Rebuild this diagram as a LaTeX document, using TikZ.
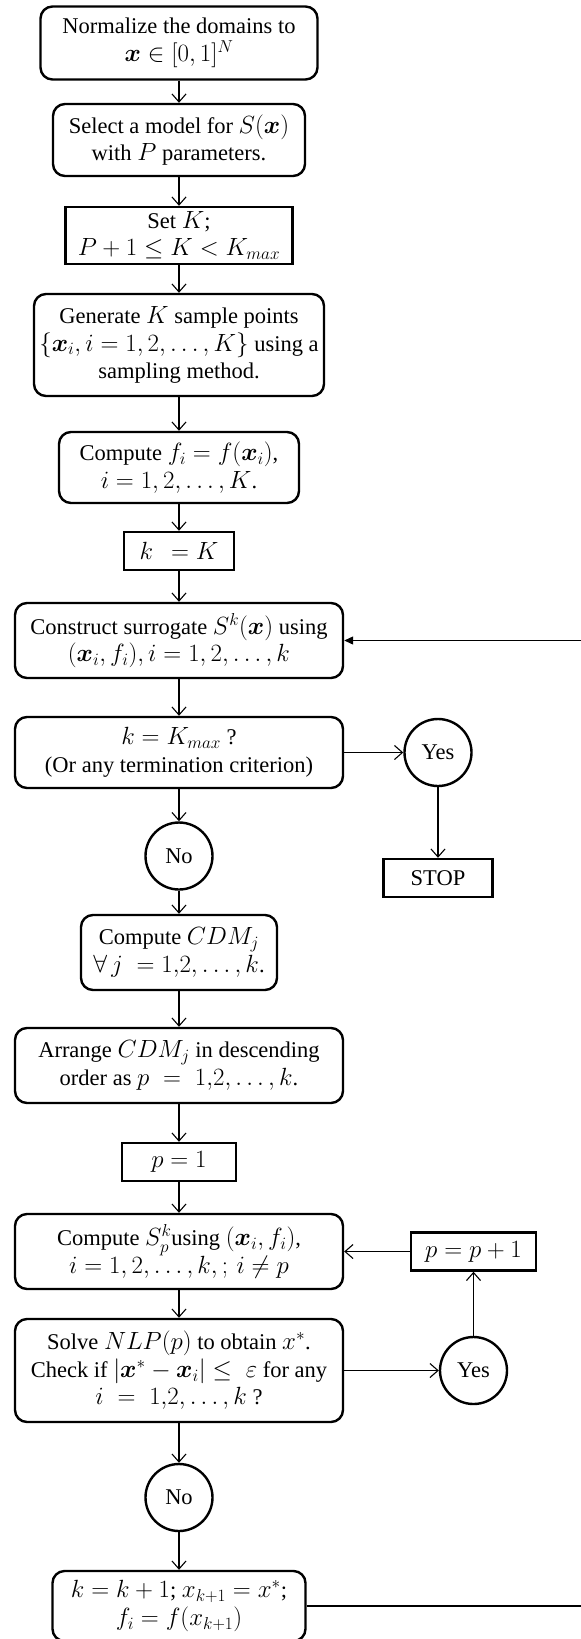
\documentclass[tikz,border=0pt]{standalone}
\usepackage{amsmath,amssymb}
\usepackage{fontspec}
\setmainfont{Liberation Serif}
\usetikzlibrary{arrows.meta,shapes.geometric}
\DeclareMathSizes{22.5}{24}{17}{13}
\newcommand\fsz{\fontsize{22.5}{27.5}\selectfont}
\tikzset{
  box/.style={draw, line width=2.4pt, rounded corners=12pt, align=center, inner sep=0pt, font=\fsz},
  rbox/.style={draw, line width=2.4pt, align=center, inner sep=0pt, font=\fsz},
  circ/.style={draw, line width=2.4pt, circle, minimum size=67pt, inner sep=0pt, font=\fsz},
  arr/.style={-{Straight Barb[length=8pt,width=14pt]}, line width=1.1pt},
  fb/.style={-{Triangle[length=9pt,width=8pt]}, line width=1.1pt}
}
\begin{document}
\begin{tikzpicture}[x=1pt,y=-1pt]
\useasboundingbox (0,0) rectangle (581,1639);
\node[box, minimum width=277pt, minimum height=73pt] (n1) at (179,43) {Normalize the domains to\\ $\boldsymbol{x}\in[0,1]^N$};
\node[box, minimum width=252pt, minimum height=72pt] (n2) at (179,140) {Select a model for $S(\boldsymbol{x})$\\ with $P$ parameters.};
\node[rbox, minimum width=227pt, minimum height=57pt] (n3) at (179,235.5) {Set $K$;\\ $P+1\le K<K_{max}$};
\node[box, minimum width=290pt, minimum height=102pt] (n4) at (179,345) {Generate $K$ sample points\\ $\{\boldsymbol{x}_i, i=1,2,\dots,K\}$ using a\\ sampling method.};
\node[box, minimum width=240pt, minimum height=71pt] (n5) at (179,467.5) {Compute $f_i=f(\boldsymbol{x}_i)$,\\ $i=1,2,\dots,K$.};
\node[rbox, minimum width=110pt, minimum height=38pt] (n6) at (179,551) {$k\;\,=K$};
\node[box, minimum width=328pt, minimum height=75pt] (n7) at (179,640.5) {Construct surrogate $S^k(\boldsymbol{x})$ using\\ $(\boldsymbol{x}_i,f_i), i=1,2,\dots,k$};
\node[box, minimum width=328pt, minimum height=71pt] (n8) at (179,752.5) {$k=K_{max}$ ?\\ (Or any termination criterion)};
\node[circ] (yes1) at (438,752.5) {Yes};
\node[circ] (no1) at (179,856) {No};
\node[rbox, minimum width=109pt, minimum height=38pt] (stop) at (438,878) {STOP};
\node[box, minimum width=196pt, minimum height=75pt] (n9) at (179,952.5) {Compute $CDM_j$\\ $\forall\, j\;=1{,}2, \dots, k$.};
\node[box, minimum width=328pt, minimum height=75pt] (n10) at (179,1065.5) {Arrange $CDM_j$ in descending\\ order as $p\;=\;1{,}2, \dots, k$.};
\node[rbox, minimum width=114pt, minimum height=38pt] (n11) at (179,1162) {$p=1$};
\node[box, minimum width=328pt, minimum height=75pt] (n12) at (179,1251.5) {Compute $S_p^k$using $(\boldsymbol{x}_i, f_i)$,\\ $i=1,2,\dots,k,;\, i\ne p$};
\node[rbox, minimum width=125pt, minimum height=38pt] (pp) at (473.5,1251.5) {$p=p+1$};
\node[box, minimum width=328pt, minimum height=103pt] (n13) at (179,1370.5) {Solve $NLP(p)$ to obtain $x^*$.\\ Check if $|\boldsymbol{x}^*-\boldsymbol{x}_i|\le\;\varepsilon$ for any\\ $i\;=\;1{,}2,\dots,k$ ?};
\node[circ] (yes2) at (473.5,1370.5) {Yes};
\node[circ] (no2) at (179,1497.5) {No};
\node[box, minimum width=253pt, minimum height=70pt] (n14) at (179,1606) {$k=k+1$; $x_{k+1}=x^*$;\\ $f_i=f(x_{k+1})$};
\coordinate (rt1) at (595,1606);
\coordinate (rt2) at (595,640.5);
\draw[arr] (n1) -- (n2);
\draw[arr] (n2) -- (n3);
\draw[arr] (n3) -- (n4);
\draw[arr] (n4) -- (n5);
\draw[arr] (n5) -- (n6);
\draw[arr] (n6) -- (n7);
\draw[arr] (n7) -- (n8);
\draw[arr] (n8) -- (no1);
\draw[arr] (n8) -- (yes1);
\draw[arr] (yes1) -- (stop);
\draw[arr] (no1) -- (n9);
\draw[arr] (n9) -- (n10);
\draw[arr] (n10) -- (n11);
\draw[arr] (n11) -- (n12);
\draw[arr] (n12) -- (n13);
\draw[arr] (pp) -- (n12);
\draw[arr] (n13) -- (yes2);
\draw[arr] (yes2) -- (pp);
\draw[arr] (n13) -- (no2);
\draw[arr] (no2) -- (n14);
\draw[fb] (n14.east) -- (rt1) -- (rt2) -- (n7.east);
\end{tikzpicture}
\end{document}
